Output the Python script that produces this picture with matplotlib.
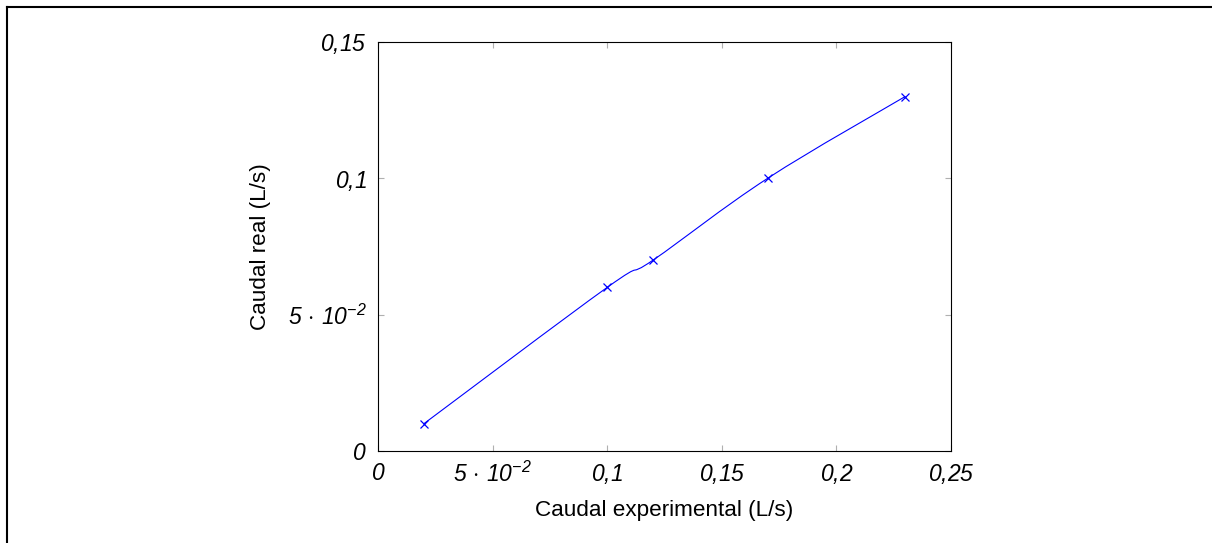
import numpy as np
import matplotlib
matplotlib.use("Agg")
import matplotlib.pyplot as plt
from matplotlib.path import Path
from matplotlib.patches import PathPatch
from matplotlib.lines import Line2D

# measured flow values (L/s)
caudal_exp = [0.02, 0.10, 0.12, 0.17, 0.23]
caudal_real = [0.01, 0.06, 0.07, 0.10, 0.13]

x_ticks = [0, 0.05, 0.10, 0.15, 0.20, 0.25]
x_labels = [r"$0$", r"$5\,\cdot\,10^{-2}$", r"$0{,}\!\,1$", r"$0{,}\!\,15$",
            r"$0{,}\!\,2$", r"$0{,}\!\,25$"]
y_ticks = [0, 0.05, 0.10, 0.15]
y_labels = [r"$0$", r"$5\,\cdot\,10^{-2}$", r"$0{,}\!\,1$", r"$0{,}\!\,15$"]

plt.rcParams['font.family'] = ['Liberation Sans', 'DejaVu Sans']
plt.rcParams['mathtext.fontset'] = 'custom'
plt.rcParams['mathtext.rm'] = 'Liberation Sans:italic'
plt.rcParams['mathtext.it'] = 'Liberation Sans:italic'


def smooth_path(xs, ys, tension=0.55):
    # cubic bezier through the points, like tikz "smooth"
    pts = np.column_stack([xs, ys])
    n = len(pts)
    k = tension / 3.0
    verts = [pts[0]]
    codes = [Path.MOVETO]
    for i in range(n - 1):
        p0 = pts[i - 1] if i > 0 else pts[i]
        p1 = pts[i]
        p2 = pts[i + 1]
        p3 = pts[i + 2] if i + 2 < n else pts[i + 1]
        c1 = p1 + k * (p2 - p0)
        c2 = p2 - k * (p3 - p1)
        verts += [c1, c2, p2]
        codes += [Path.CURVE4] * 3
    return Path(verts, codes)


fig = plt.figure(figsize=(12.12, 5.43), dpi=100)
ax = fig.add_axes([378 / 1212, 1 - 451 / 543, 573 / 1212, 409 / 543])

ax.add_patch(PathPatch(smooth_path(caudal_exp, caudal_real), fill=False,
                       edgecolor='blue', linewidth=0.8))
ax.plot(caudal_exp, caudal_real, linestyle='none', marker='x', color='blue',
        markersize=6, markeredgewidth=0.9)

ax.set_xlim(0, 0.25)
ax.set_ylim(0, 0.15)
ax.set_xticks(x_ticks)
ax.set_xticklabels(x_labels, fontsize=16.5)
ax.set_yticks(y_ticks)
ax.set_yticklabels(y_labels, fontsize=16.5)
ax.tick_params(direction='in', top=True, right=True, length=4.5, width=0.8,
               color='#b0b0b0', pad=8)
for s in ax.spines.values():
    s.set_linewidth(0.8)

ax.set_xlabel("Caudal experimental (L/s)", fontsize=16.2, labelpad=9)
ax.set_ylabel("Caudal real (L/s)", fontsize=16.2, labelpad=12)

# page frame lines
fig.add_artist(Line2D([7 / 1212, 1], [1 - 7 / 543, 1 - 7 / 543],
                      transform=fig.transFigure, color='black', linewidth=1.5))
fig.add_artist(Line2D([7 / 1212, 7 / 1212], [0, 1 - 7 / 543],
                      transform=fig.transFigure, color='black', linewidth=1.5))

fig.savefig("out.png", dpi=100)
